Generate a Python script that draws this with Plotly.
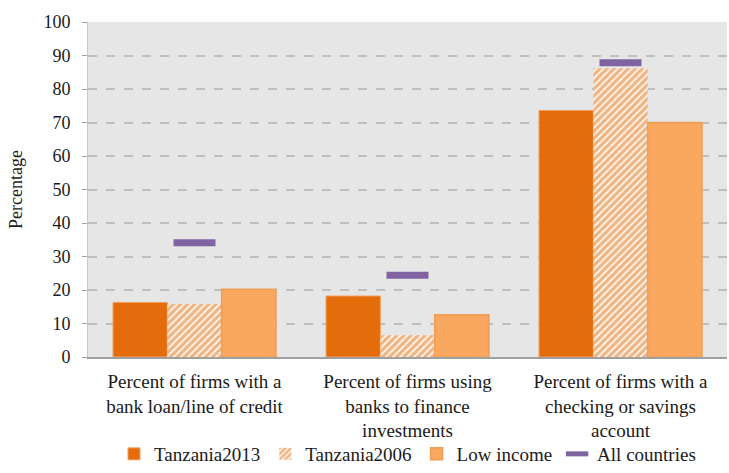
import plotly.graph_objects as go

categories = ["Percent of firms with a<br>bank loan/line of credit",
              "Percent of firms using<br>banks to finance<br>investments",
              "Percent of firms with a<br>checking or savings<br>account"]
tanzania2013 = [16.3, 18.2, 73.6]
tanzania2006 = [15.8, 6.5, 86.2]
low_income = [20.2, 12.6, 70.0]
all_countries = [34.1, 24.4, 87.8]

font = "Liberation Serif, DejaVu Serif, serif"
fig = go.Figure()
fig.add_bar(x=categories, y=tanzania2013, name="Tanzania2013",
            marker=dict(color="#E46C0A", line=dict(color="#F0A060", width=1)))
fig.add_bar(x=categories, y=tanzania2006, name="Tanzania2006",
            marker=dict(color="white", line=dict(color="white", width=0),
                        pattern=dict(shape="/", fgcolor="#E46C0A", bgcolor="white",
                                     size=5, solidity=0.7)))
fig.add_bar(x=categories, y=low_income, name="Low income",
            marker=dict(color="#FAA75F", line=dict(color="#EE9E55", width=1.5)))
fig.add_scatter(x=categories, y=all_countries, name="All countries", mode="markers",
                marker=dict(symbol="line-ew-open", size=30, color="#8064A2",
                            line=dict(color="#8064A2", width=7)))

fig.update_layout(
    width=729, height=473,
    margin=dict(l=88, r=2, t=22, b=116),
    paper_bgcolor="white", plot_bgcolor="#E6E6E6",
    barmode="group", bargap=0.235, bargroupgap=0,
    font=dict(family=font, size=18, color="#1a1a1a"),
    showlegend=True,
    legend=dict(orientation="h", x=0.5, xanchor="center", xref="paper",
                y=0.0, yanchor="bottom", yref="container",
                bgcolor="rgba(0,0,0,0)",
                font=dict(family=font, size=19), itemwidth=30, tracegroupgap=0),
    xaxis=dict(showline=True, linecolor="#A0A0A0", linewidth=2, ticks="",
               tickfont=dict(family=font, size=19), automargin=False,
               ticklabelstandoff=6),
    yaxis=dict(range=[0, 100], dtick=10, showgrid=True, gridcolor="#BFBFBF",
               griddash="dash", gridwidth=1.5, showline=True, linecolor="#C8C8C8",
               ticks="outside", ticklen=5, tickcolor="#A0A0A0", ticklabelstandoff=8,
               title=dict(text="Percentage", font=dict(family=font, size=18), standoff=16),
               zeroline=False, tickfont=dict(family=font, size=18), automargin=False),
)
fig.write_html("out.html")
